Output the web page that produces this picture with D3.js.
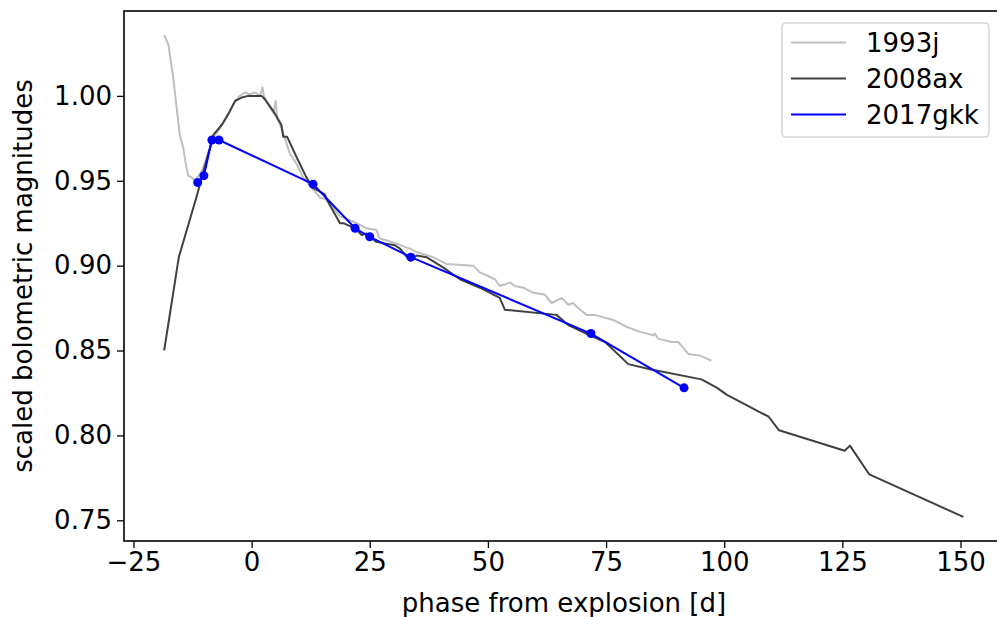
<!DOCTYPE html>
<html>
<head>
<meta charset="utf-8">
<script src="https://cdn.jsdelivr.net/npm/d3@7"></script>
<style>
  body { margin: 0; background: #fff; }
  svg { font-family: "DejaVu Sans", sans-serif; }
</style>
</head>
<body>
<svg id="chart" width="997" height="617"></svg>
<script>
// SN 1993j, light grey
var phase93j = [-18.5, -17.6, -16.6, -15.2, -14.5, -13.8, -13.4, -12.7, -12.0, -10.9, -10.2, -9.2, -8.1, -6.7, -5.3, -3.9, -2.5, -1.4, -0.4, 0.7, 1.8, 2.3, 2.6, 3.5, 4.6, 5.1, 5.4, 6.3, 7.4, 8.1, 9.5, 10.9, 13.0, 14.5, 15.9, 18.7, 21.5, 24.3, 26.4, 27.1, 28.5, 30.6, 33.5, 34.9, 38.4, 41.2, 46.9, 48.3, 51.5, 52.5, 54.7, 55.7, 57.5, 59.6, 62.0, 63.5, 65.6, 67.0, 68.0, 69.5, 70.9, 72.6, 76.5, 79.3, 82.2, 85.0, 85.3, 86.0, 88.9, 90.3, 92.4, 94.9, 97.3];
var mag93j = [1.036, 1.030, 1.011, 0.977, 0.970, 0.958, 0.953, 0.952, 0.950, 0.954, 0.958, 0.966, 0.975, 0.981, 0.987, 0.995, 1.000, 1.002, 1.001, 1.002, 1.000, 1.005, 1.000, 0.995, 0.990, 0.997, 0.987, 0.981, 0.972, 0.966, 0.960, 0.952, 0.945, 0.940, 0.939, 0.929, 0.926, 0.922, 0.921, 0.916, 0.915, 0.913, 0.910, 0.908, 0.905, 0.901, 0.900, 0.896, 0.892, 0.888, 0.890, 0.888, 0.887, 0.884, 0.883, 0.878, 0.881, 0.877, 0.878, 0.874, 0.871, 0.871, 0.868, 0.864, 0.861, 0.859, 0.860, 0.857, 0.855, 0.855, 0.848, 0.847, 0.844];

// SN 2008ax, dark grey
var phase08ax = [-18.5, -15.4, -11.6, -8.1, -6.3, -4.6, -3.5, -2.1, -0.7, 2.1, 2.8, 4.6, 6.3, 6.7, 7.5, 9.5, 11.6, 12.9, 15.5, 15.9, 18.7, 19.4, 21.9, 23.3, 24.3, 26.4, 30.3, 31.4, 33.5, 34.9, 37.0, 40.5, 44.1, 48.3, 52.5, 53.6, 64.5, 67.0, 71.6, 74.8, 79.7, 84.3, 95.2, 98.5, 100.5, 109.4, 111.6, 125.5, 126.6, 130.7, 150.6];
var mag08ax = [0.850, 0.905, 0.941, 0.977, 0.983, 0.991, 0.997, 0.999, 1.000, 1.000, 0.998, 0.991, 0.983, 0.976, 0.976, 0.964, 0.952, 0.946, 0.942, 0.939, 0.925, 0.925, 0.922, 0.918, 0.919, 0.914, 0.912, 0.910, 0.903, 0.906, 0.905, 0.899, 0.892, 0.887, 0.881, 0.874, 0.871, 0.865, 0.859, 0.855, 0.842, 0.839, 0.833, 0.828, 0.824, 0.811, 0.803, 0.791, 0.794, 0.777, 0.752];

// SN 2017gkk, blue with markers
var phase17gkk = [-11.4, -10.1, -8.4, -6.9, 13.0, 21.9, 25.0, 33.7, 71.8, 91.5];
var mag17gkk = [0.949, 0.953, 0.974, 0.974, 0.948, 0.922, 0.917, 0.905, 0.860, 0.828];

var xTicks = [-25, 0, 25, 50, 75, 100, 125, 150];
var yTicks = [0.75, 0.80, 0.85, 0.90, 0.95, 1.00];
var seriesNames = ['1993j', '2008ax', '2017gkk'];
var seriesColors = ['#bfbfbf', '#404040', '#0000ff'];

var mLeft = 124, mRight = 1004, mTop = 11, mBottom = 541;
var fontSize = 26;

var svg = d3.select('#chart');

var x = d3.scaleLinear().domain([-27.0, 159.2]).range([mLeft, mRight]);
var y = d3.scaleLinear().domain([0.7378, 1.0500]).range([mBottom, mTop]);

function zip(a, b) {
    return a.map(function(d, i) { return [d, b[i]]; });
}

var line = d3.line()
    .x(function(d) { return x(d[0]); })
    .y(function(d) { return y(d[1]); });

svg.append('clipPath').attr('id', 'clip')
    .append('rect')
    .attr('x', mLeft).attr('y', mTop)
    .attr('width', mRight - mLeft).attr('height', mBottom - mTop);

var plot = svg.append('g').attr('clip-path', 'url(#clip)');

var data = [zip(phase93j, mag93j), zip(phase08ax, mag08ax), zip(phase17gkk, mag17gkk)];

data.forEach(function(d, i) {
    plot.append('path')
        .datum(d)
        .attr('fill', 'none')
        .attr('stroke', seriesColors[i])
        .attr('stroke-width', 2)
        .attr('stroke-linejoin', 'round')
        .attr('d', line);
});

plot.selectAll('circle')
    .data(data[2])
    .enter().append('circle')
        .attr('cx', function(d) { return x(d[0]); })
        .attr('cy', function(d) { return y(d[1]); })
        .attr('r', 4.5)
        .attr('fill', seriesColors[2]);

// axes
var xAxis = svg.append('g')
    .attr('transform', 'translate(0,' + mBottom + ')')
    .call(d3.axisBottom(x).tickValues(xTicks).tickSize(7).tickPadding(5).tickSizeOuter(0));

var yAxis = svg.append('g')
    .attr('transform', 'translate(' + mLeft + ',0)')
    .call(d3.axisLeft(y).tickValues(yTicks).tickFormat(d3.format('.2f')).tickSize(7).tickPadding(5).tickSizeOuter(0));

[xAxis, yAxis].forEach(function(g) {
    g.selectAll('text').attr('font-size', fontSize).attr('fill', '#000')
        .attr('font-family', '"DejaVu Sans", sans-serif');
    g.selectAll('line').attr('stroke', '#000').attr('stroke-width', 1.3);
    g.select('.domain').remove();
});

// spines (the right one falls off the picture)
svg.append('rect')
    .attr('x', mLeft).attr('y', mTop)
    .attr('width', mRight - mLeft).attr('height', mBottom - mTop)
    .attr('fill', 'none')
    .attr('stroke', '#000')
    .attr('stroke-width', 1.6);

svg.append('text')
    .attr('x', (mLeft + mRight) / 2)
    .attr('y', 612)
    .attr('text-anchor', 'middle')
    .attr('font-size', fontSize)
    .text('phase from explosion [d]');

svg.append('text')
    .attr('transform', 'translate(32,' + ((mTop + mBottom) / 2) + ') rotate(-90)')
    .attr('text-anchor', 'middle')
    .attr('font-size', fontSize)
    .text('scaled bolometric magnitudes');

// legend
var legend = svg.append('g');
legend.append('rect')
    .attr('x', 782).attr('y', 23)
    .attr('width', 207).attr('height', 114)
    .attr('rx', 4)
    .attr('fill', '#fff').attr('fill-opacity', 0.8)
    .attr('stroke', '#d6d6d6').attr('stroke-width', 1.6);

seriesNames.forEach(function(name, i) {
    var ly = 42.5 + i * 36;
    legend.append('line')
        .attr('x1', 791).attr('x2', 846)
        .attr('y1', ly).attr('y2', ly)
        .attr('stroke', seriesColors[i])
        .attr('stroke-width', 2);
    legend.append('text')
        .attr('x', 866).attr('y', ly)
        .attr('dy', '0.36em')
        .attr('font-size', fontSize)
        .text(name);
});
</script>
</body>
</html>
